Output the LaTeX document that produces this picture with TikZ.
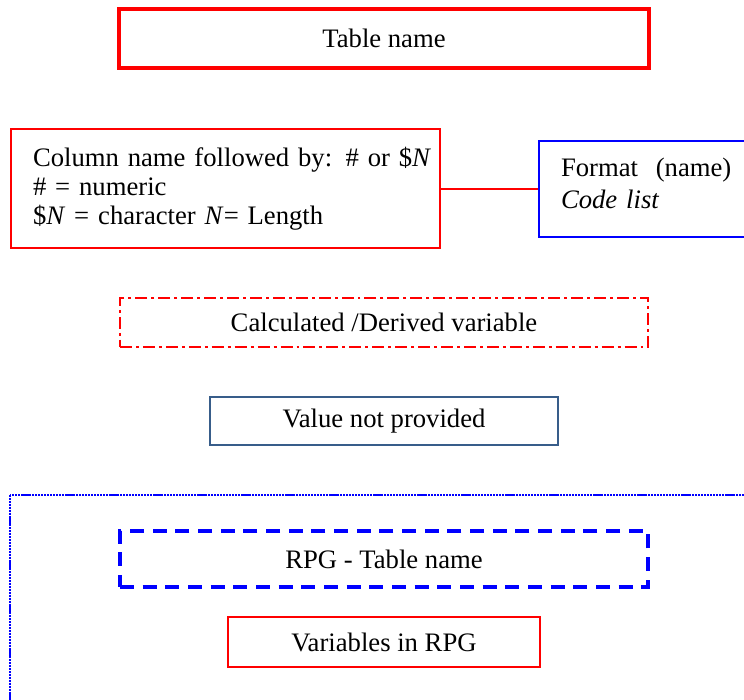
\documentclass[tikz,border=0pt]{standalone}
\usepackage{fontspec}
\setmainfont{Liberation Serif}
\usepackage{xcolor}
\definecolor{valblue}{RGB}{56,93,138}

\begin{document}
\begin{tikzpicture}[x=1pt,y=-1pt,
  box/.style={draw, rectangle, inner sep=0pt, font=\fontsize{20}{22}\selectfont},
  redbox/.style={box, draw=red, line width=1.5pt},
  notebox/.style={box, inner xsep=16.5pt, align=left}]
\useasboundingbox (0,0) rectangle (558,525);
\node[redbox, line width=2.6pt, minimum width=397.5pt, minimum height=44.25pt] (tabname) at (288,28.9) {Table name};
\node[redbox, notebox, anchor=west, text width=288.75pt, minimum height=89.25pt] (colname) at (7.5,141.5)
  {\mbox{Column name followed by: \# or \$\textit{N}}\\ \# = numeric\\ \$\textit{N} = character \textit{N}= Length};
\node[notebox, draw=blue, line width=1.5pt, anchor=west, text width=163.5pt, minimum height=72pt,
  font=\fontsize{20}{24}\selectfont] (format) at (403.5,141.75)
  {Format\ \ (name)\\ \textit{Code list}\\[-16pt]\mbox{}};
\draw[red, line width=1.5pt] (colname.east) -- (colname.east -| format.west);
\node[redbox, dash pattern=on 9pt off 3pt on 2.2pt off 3pt, minimum width=396pt, minimum height=36.75pt] (calc) at (288,241.9) {Calculated /Derived variable};
\node[box, draw=valblue, line width=1.5pt, minimum width=261pt, minimum height=36pt] (noval) at (288,315.75) {Value not provided};
\draw[blue, line width=2.2pt, dash pattern=on 1.6pt off 0.6pt] (7.5,371.25) rectangle (600,570);
\node[box, draw=blue, line width=2.4pt, dash pattern=on 10.5pt off 6.5pt, minimum width=396pt, minimum height=42pt] (rpgname) at (288,419.25) {RPG - Table name};
\node[redbox, minimum width=234pt, minimum height=37.5pt] (rpgvars) at (288,481.5) {Variables in RPG};
\end{tikzpicture}
\end{document}
